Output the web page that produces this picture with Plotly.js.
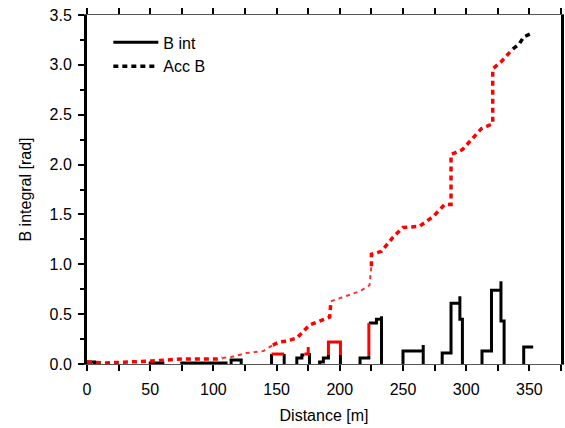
<!DOCTYPE html>
<html>
<head>
<meta charset="utf-8">
<script src="https://cdn.plot.ly/plotly-3.0.1.min.js"></script>
<style>html,body{margin:0;padding:0;background:#fff;}#chart{width:565px;height:428px;}</style>
</head>
<body>
<div id="chart"></div>
<script>
// B int (step profile), black parts; null = break
var bIntX = [0,0,6,6,null,50,50,60,60,null,75,75,110,110,null,114,114,122,122,null,
  146,146,null,156,156,null,
  166,166,170,170,172,null,176,176,null,
  184,184,187,187,191,191,null,200.5,200.5,null,
  216,216,223,223,null,223,229,229,233,233,233,null,
  250,250,266,266,266,null,
  281,281,288,288,295,295,295,297,297,null,
  312.5,312.5,320,320,327.5,327.5,327.5,330,330,null,
  345.5,345.5,353];
var bIntY = [0,0.02,0.02,0,null,0,0.01,0.01,0,null,0,0.01,0.01,0,null,0,0.04,0.04,0,null,
  0,0.1,null,0.1,0,null,
  0,0.06,0.06,0.09,0.09,null,0.11,0,null,
  0,0.02,0.02,0.06,0.06,0.09,null,0.09,0,null,
  0,0.06,0.06,0.08,null,0.41,0.41,0.45,0.45,0.48,0,null,
  0,0.13,0.13,0.19,0,null,
  0,0.11,0.11,0.61,0.61,0.68,0.45,0.45,0,null,
  0,0.13,0.13,0.74,0.74,0.83,0.43,0.43,0,null,
  0,0.17,0.17];
// B int, red parts
var bIntRedX = [146,156,null,172,175,175,null,191,191,200.5,200.5,null,223,223];
var bIntRedY = [0.1,0.1,null,0.1,0.1,0.17,null,0.09,0.22,0.22,0.09,null,0.08,0.41];
// Acc B (accumulated), red, bold stretches (null = break)
var accX = [0,14,51,75,103,107,null,147,152,158,166,176,184,192,193,null,225,225,233,242,250,263,274,283,288,288,297,312,321,321,327.5,337];
var accY = [0.02,0.01,0.03,0.05,0.05,0.06,null,0.19,0.22,0.23,0.26,0.39,0.43,0.47,0.63,null,0.98,1.10,1.13,1.27,1.37,1.38,1.48,1.60,1.60,2.10,2.15,2.36,2.41,2.96,3.03,3.16];
// Acc B, red, faint stretches
var accThinX = [107,114,126,139.5,147,null,193,200,216,223.5,225];
var accThinY = [0.06,0.07,0.11,0.13,0.19,null,0.63,0.66,0.73,0.79,0.98];
// Acc B, black end part
var accEndX = [337,342,345.5,350.6];
var accEndY = [3.16,3.21,3.28,3.31];

var traces = [
  {x: bIntX, y: bIntY, type:'scatter', mode:'lines', name:'B int',
   line:{color:'#000', width:3}, connectgaps:false},
  {x: bIntRedX, y: bIntRedY, type:'scatter', mode:'lines', showlegend:false,
   line:{color:'#ff0000', width:3}, connectgaps:false},
  {x: accX, y: accY, type:'scatter', mode:'lines', showlegend:false, connectgaps:false,
   line:{color:'#ff0000', width:3.5, dash:'5px,4px'}},
  {x: accThinX, y: accThinY, type:'scatter', mode:'lines', showlegend:false, connectgaps:false,
   line:{color:'#ff3030', width:2, dash:'4px,4px'}},
  {x: accEndX, y: accEndY, type:'scatter', mode:'lines', name:'Acc B',
   line:{color:'#000', width:3.5, dash:'5px,4px'}}
];

var font = {family:'Liberation Sans, Arial, sans-serif', size:16, color:'#000'};
var layout = {
  width:565, height:428,
  margin:{l:87, r:4, t:15, b:64},
  paper_bgcolor:'#fff', plot_bgcolor:'#fff',
  font: font,
  showlegend:true,
  legend:{x:0.045, y:0.97, xanchor:'left', yanchor:'top', bgcolor:'rgba(0,0,0,0)',
          font:font, itemwidth:45, tracegroupgap:0},
  xaxis:{range:[0,375], tickvals:[0,50,100,150,200,250,300,350],
         ticks:'outside', ticklen:6, tickwidth:2, tickcolor:'#000', ticklabelstandoff:5,
         minor:{dtick:25, ticks:'outside', ticklen:6, tickwidth:2, tickcolor:'#000', showgrid:false},
         showline:true, linecolor:'#555', linewidth:1, mirror:'ticks',
         showgrid:false, zeroline:false, tickfont:font,
         title:{text:'Distance [m]', font:font, standoff:12}},
  yaxis:{range:[0,3.5], dtick:0.5, tick0:0, tickformat:'.1f',
         ticks:'outside', ticklen:6, tickwidth:2, tickcolor:'#000', ticklabelstandoff:3,
         minor:{dtick:0.25, ticks:'outside', ticklen:4, tickwidth:2, tickcolor:'#000', showgrid:false},
         showline:true, linecolor:'#000', linewidth:3, mirror:true,
         showgrid:false, zeroline:false, tickfont:font,
         title:{text:'B integral [rad]', font:font, standoff:14}}
};
Plotly.newPlot('chart', traces, layout, {displayModeBar:false, staticPlot:true});
</script>
</body>
</html>
